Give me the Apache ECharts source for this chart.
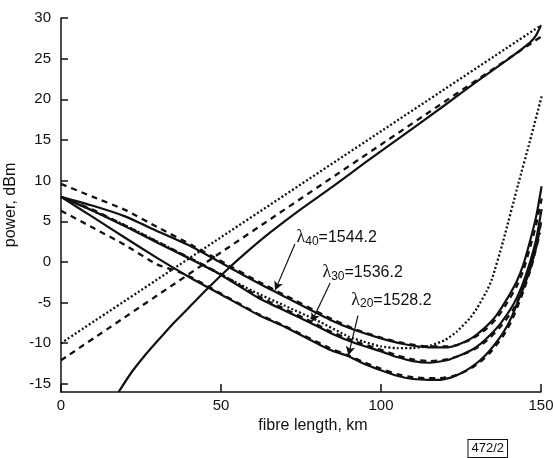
<!DOCTYPE html>
<html><head><meta charset="utf-8">
<script src="https://cdn.jsdelivr.net/npm/echarts@6/dist/echarts.min.js"></script>
<style>html,body{margin:0;padding:0;background:#fff}#c{width:553px;height:458px}</style>
</head><body><div id="c"></div>
<script>
// ---- data ----
const xTicks = [0, 50, 100, 150];
const yTicks = [-15, -10, -5, 0, 5, 10, 15, 20, 25, 30];

// forward-pumped signals (rising)
const fwdDotted = [[0,-10],[150,29.1]];
const fwdDashed = [[0,-12.1],[150,27.7]];
const fwdSolid = [[18,-16],[22,-13.6],[26,-11.6],[30,-9.8],[35,-7.6],[40,-5.6],[45.5,-3.4],[51.8,-1.0],[58,1.2],[65.3,3.6],[75,6.5],[85,9.3],[95,12.2],[107,15.6],[120,19.3],[130,22.2],[140,25.0],[146.6,27.0],[148.5,27.9],[150,29.1]];

// backward-pumped signals
const bwdSolid40 = [[0,8.0],[10,6.9],[20,5.6],[30,3.8],[40.7,1.9],[50,-0.1],[61.6,-2.6],[70,-4.3],[84,-7.1],[92,-8.4],[100,-9.4],[107,-10.1],[115,-10.5],[121,-10.5],[124,-10.2],[127.8,-9.5],[130,-8.9],[133,-7.9],[136,-6.6],[139,-4.8],[142.4,-2.4],[144.5,-0.3],[146.6,2.6],[148.5,5.6],[150.2,9.3]];
const bwdSolid30 = [[0,8.0],[10,6.3],[19.9,4.4],[30,2.4],[40.7,0.3],[50,-1.6],[61.6,-4.4],[70,-6.0],[78,-7.5],[84,-8.7],[92,-10.0],[100,-11.0],[105,-11.7],[110,-12.2],[115,-12.4],[120.5,-12.1],[124,-11.6],[128,-10.9],[131,-10.1],[134.1,-9.0],[137.5,-7.5],[141.4,-5.2],[144,-3.0],[146.6,0.0],[148.5,2.8],[150.2,6.5]];
const bwdSolid20 = [[0,8.0],[10,5.5],[19.9,3.0],[30,0.5],[40.7,-2.0],[50,-4.0],[61.6,-6.5],[70,-8.0],[84,-10.8],[89.8,-11.6],[95,-12.6],[99.7,-13.3],[105,-14.0],[110,-14.4],[115,-14.5],[118.4,-14.5],[122,-14.2],[125,-13.7],[128,-13.0],[131,-12.1],[134,-10.9],[138.2,-8.7],[141,-6.6],[144.5,-3.0],[147,0.0],[149.7,4.3]];
const bwdDashed40 = [[0,9.6],[10,8.0],[20,6.4],[30,4.3],[40.7,2.1],[50,0.1],[61.6,-2.4],[70,-4.1],[84,-6.9],[92,-8.3],[100,-9.3],[107,-10.0],[115,-10.4],[121,-10.4],[124,-10.2],[127.8,-9.6],[130,-9.1],[133,-8.2],[136,-7.0],[139,-5.3],[142.4,-3.0],[144.5,-1.0],[146.6,1.8],[148.5,4.6],[150.2,7.8]];
const bwdDashed30 = [[0,8.0],[10,6.4],[19.9,4.5],[30,2.5],[40.7,0.4],[50,-1.5],[61.6,-4.2],[70,-5.8],[78,-7.3],[84,-8.5],[92,-9.8],[100,-10.8],[105,-11.5],[110,-12.0],[115,-12.2],[120.5,-12.0],[124,-11.6],[128,-11.0],[131,-10.3],[134.1,-9.3],[137.5,-7.9],[141.4,-5.8],[144,-3.7],[146.6,-0.9],[148.5,1.8],[150.2,5.2]];
const bwdDashed20 = [[0,6.3],[10,4.2],[19.9,2.1],[30,-0.3],[36.6,-1.2],[40.7,-1.9],[50,-3.9],[61.6,-6.4],[70,-7.9],[84,-10.6],[89.8,-11.5],[95,-12.4],[99.7,-13.1],[105,-13.8],[110,-14.2],[115,-14.3],[118.4,-14.3],[122,-14.1],[125,-13.7],[128,-13.1],[131,-12.3],[134,-11.2],[138.2,-9.1],[141,-7.1],[144.5,-3.6],[147,-0.6],[149.7,3.6]];
const bwdDotted = [[0,8.0],[20,4.5],[40,0.5],[60,-3.6],[70,-5.4],[80,-7.2],[90,-9.2],[94.5,-9.8],[100,-10.4],[105,-10.6],[110,-10.6],[115.3,-10.3],[120,-9.6],[123.6,-8.6],[127.8,-6.9],[130,-5.7],[133,-3.6],[134.6,-2.2],[138.2,2.6],[142.9,9.6],[146.5,14.8],[150.3,20.5]];

// annotations
const labelSubs = ['40', '30', '20'];
const labelWaves = ['1544.2', '1536.2', '1528.2'];
const labelAt = [[73.6, 3.0], [81.7, -1.3], [90.7, -4.7]];
const arrowFrom = [[73.1, 2.2], [84.1, -2.6], [92.8, -6.6]];
const arrowTo = [[66.9, -3.5], [78.3, -7.4], [89.8, -11.5]];
const figNumber = '472/2';

// ---- chart ----
const INK = '#111';
const FONT = 'Liberation Sans, Arial, sans-serif';
function line(data, type) {
  return {
    type: 'line', data: data, showSymbol: false, symbol: 'none', smooth: 0.2,
    silent: true, animation: false, z: 3,
    lineStyle: { color: INK, width: type === 'solid' ? 2.2 : 2.3, type: type === 'solid' ? 'solid' : (type === 'dashed' ? [6, 5] : [2, 2.2]) }
  };
}
const chart = echarts.init(document.getElementById('c'), null, { renderer: 'canvas' });
chart.setOption({
  animation: false,
  backgroundColor: '#fff',
  grid: { left: 61, right: 12, top: 18, bottom: 66, containLabel: false, outerBoundsMode: 'none' },
  xAxis: {
    type: 'value', min: 0, max: 150, interval: 50,
    name: 'fibre length, km', nameLocation: 'middle', nameGap: 17,
    nameTextStyle: { color: INK, fontSize: 16, fontFamily: FONT, padding: [0, 0, 0, 24] },
    axisLine: { show: true, onZero: false, lineStyle: { color: INK, width: 1.5 } },
    axisTick: { show: true, inside: true, length: 8, lineStyle: { color: INK, width: 1.5 } },
    axisLabel: { color: INK, fontSize: 15, fontFamily: FONT, margin: 6 },
    splitLine: { show: false }
  },
  yAxis: {
    type: 'value', min: -16, max: 30,
    name: 'power, dBm', nameLocation: 'middle', nameGap: 34,
    nameTextStyle: { color: INK, fontSize: 16, fontFamily: FONT },
    axisLine: { show: true, onZero: false, lineStyle: { color: INK, width: 1.5 } },
    axisTick: { show: true, inside: true, length: 7, customValues: yTicks, lineStyle: { color: INK, width: 1.5 } },
    axisLabel: { color: INK, fontSize: 15, fontFamily: FONT, margin: 10, customValues: yTicks },
    splitLine: { show: false }
  },
  series: [
    line(fwdDotted, 'dotted'), line(fwdDashed, 'dashed'), line(fwdSolid, 'solid'),
    line(bwdDotted, 'dotted'),
    line(bwdDashed40, 'dashed'), line(bwdDashed30, 'dashed'), line(bwdDashed20, 'dashed'),
    line(bwdSolid40, 'solid'), line(bwdSolid30, 'solid'), line(bwdSolid20, 'solid'),
    {
      type: 'scatter', symbolSize: 0, silent: true, z: 5,
      emphasis: { disabled: true },
      data: labelAt.map((p, i) => ({
        value: p,
        label: {
          show: true, position: 'right', distance: 0, color: INK, opacity: 1,
          formatter: '{l|λ}{s|' + labelSubs[i] + '}{e|=' + labelWaves[i] + '}',
          rich: {
            l: { fontSize: 18, fontFamily: 'Liberation Serif, serif', color: INK, lineHeight: 20 },
            s: { fontSize: 12, fontFamily: FONT, color: INK, lineHeight: 10, verticalAlign: 'bottom' },
            e: { fontSize: 16, fontFamily: FONT, color: INK, lineHeight: 20 }
          }
        }
      })),
      markLine: {
        silent: true, symbol: ['none', 'arrow'], symbolSize: [7, 9],
        label: { show: false },
        lineStyle: { color: INK, width: 1.2, type: 'solid' },
        data: arrowFrom.map((p, i) => [{ coord: p }, { coord: arrowTo[i] }])
      }
    }
  ],
  graphic: [{
    type: 'text', right: 45, bottom: 0,
    style: {
      text: figNumber, fill: INK, font: '13px ' + FONT,
      borderColor: INK, borderWidth: 1, padding: [2, 3, 2, 3], backgroundColor: '#fff'
    }
  }]
});
</script></body></html>
